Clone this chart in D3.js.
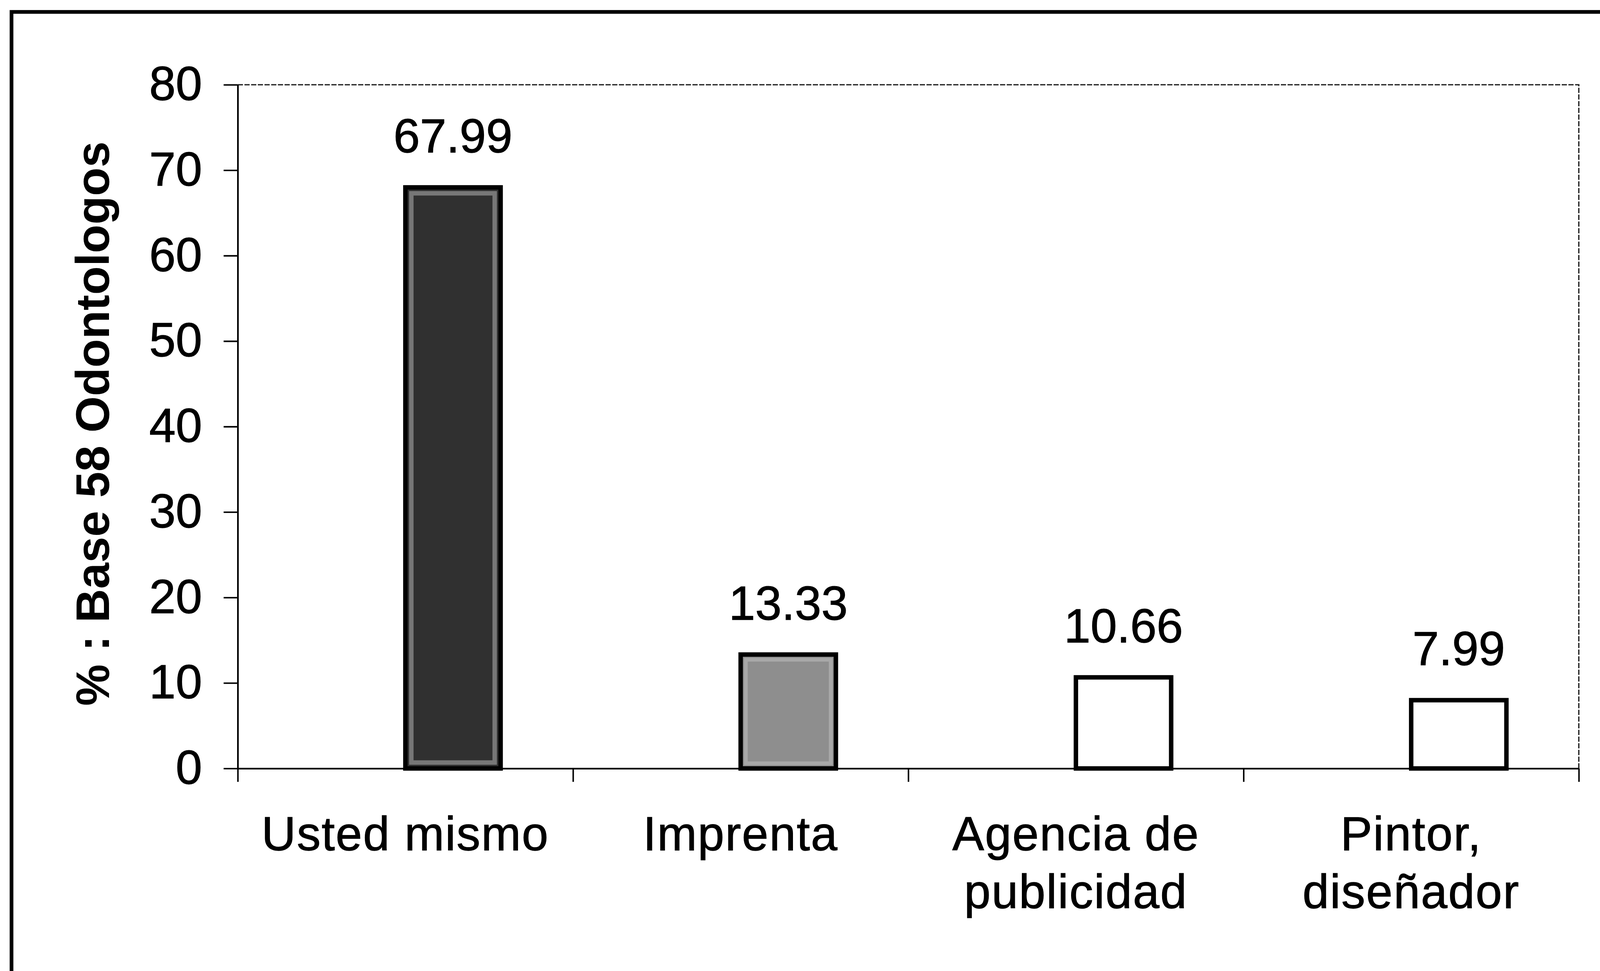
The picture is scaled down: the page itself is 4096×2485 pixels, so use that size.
<!DOCTYPE html>
<html><head><meta charset="utf-8">
<script src="https://cdn.jsdelivr.net/npm/d3@7"></script>
<style>html,body{margin:0;padding:0;background:#fff;overflow:hidden}</style>
</head><body>
<svg id="chart" width="4096" height="2485"></svg>
<script>
// ---- data ----
const categories = ["Usted mismo", "Imprenta", "Agencia de\npublicidad", "Pintor,\ndiseñador"];
const values = [67.99, 13.33, 10.66, 7.99];
const valueLabels = ["67.99", "13.33", "10.66", "7.99"];
const yTicks = [0, 10, 20, 30, 40, 50, 60, 70, 80];
const yTitle = "% : Base 58 Odontologos";
const barFills = ["#303030", "#8e8e8e", "#ffffff", "#ffffff"];

// ---- layout (reference pixels, scaled by S) ----
const S = 0.951;
const plot = {left: 640, right: 4250, top: 228, bottom: 2068};
const font = "'Liberation Sans', Arial, sans-serif";

const svg = d3.select("#chart");
svg.append("rect").attr("width", 4096).attr("height", 2485).attr("fill", "#fff");
const g = svg.append("g").attr("transform", `scale(${S})`);

// outer frame (left and top visible)
g.append("path")
  .attr("d", "M31,2613 L31,32 L4307,32")
  .attr("fill", "none").attr("stroke", "#000").attr("stroke-width", 10);

const x = d3.scaleBand().domain(categories).range([plot.left, plot.right]);
const slot = d3.scaleBand().domain(["vacío", "valor"]).range([0, x.bandwidth()]).paddingOuter(0.76);
const y = d3.scaleLinear().domain([0, 80]).range([plot.bottom, plot.top]);

// plot area top/right border (thin, dotted-looking)
g.append("path")
  .attr("d", `M${plot.left},${plot.top} L${plot.right},${plot.top} L${plot.right},${plot.bottom}`)
  .attr("fill", "none").attr("stroke", "#222").attr("stroke-width", 3.5)
  .attr("stroke-dasharray", "14 4");

// bars
const bars = g.append("g");
categories.forEach((c, i) => {
  const bx = x(c) + slot("valor");
  const bw = slot.bandwidth();
  bars.append("rect")
    .attr("x", bx).attr("y", y(values[i]))
    .attr("width", bw).attr("height", y(0) - y(values[i]))
    .attr("fill", barFills[i]).attr("stroke", "#000").attr("stroke-width", 12);
  if (i === 0) {
    bars.append("rect")
      .attr("x", bx + 16).attr("y", y(values[i]) + 16)
      .attr("width", bw - 32).attr("height", y(0) - y(values[i]) - 32)
      .attr("fill", "none").attr("stroke", "#777").attr("stroke-width", 12);
  }
  if (i === 1) {
    bars.append("rect")
      .attr("x", bx + 14).attr("y", y(values[i]) + 14)
      .attr("width", bw - 28).attr("height", y(0) - y(values[i]) - 28)
      .attr("fill", "none").attr("stroke", "#a8a8a8").attr("stroke-width", 10);
  }
});

// y axis
const yAxis = g.append("g").attr("transform", `translate(${plot.left},0)`)
  .call(d3.axisLeft(y).tickValues(yTicks).tickSize(38).tickSizeOuter(0).tickPadding(58).tickFormat(d3.format("d")));
yAxis.select(".domain").attr("stroke", "#000").attr("stroke-width", 4.5);
yAxis.selectAll(".tick line").attr("stroke", "#000").attr("stroke-width", 4);
yAxis.selectAll(".tick text").attr("font-family", font).attr("font-size", 128).attr("fill", "#000")
  .attr("stroke", "#000").attr("stroke-width", 1.5);

// x axis (baseline with ticks at category boundaries)
const xEdges = d3.scaleLinear().domain([0, categories.length]).range([plot.left, plot.right]);
const xAxis = g.append("g").attr("transform", `translate(0,${plot.bottom})`)
  .call(d3.axisBottom(xEdges).tickValues(d3.range(categories.length + 1)).tickSize(36).tickSizeOuter(0).tickFormat(""));
xAxis.select(".domain").attr("stroke", "#000").attr("stroke-width", 4.5);
xAxis.selectAll(".tick line").attr("stroke", "#000").attr("stroke-width", 4);

// category labels
categories.forEach(c => {
  const t = g.append("text")
    .attr("x", x(c) + x.bandwidth() / 2).attr("y", 2288)
    .attr("text-anchor", "middle").attr("font-family", font).attr("font-size", 128).attr("fill", "#000")
    .attr("letter-spacing", 2.5).attr("stroke", "#000").attr("stroke-width", 1.5);
  c.split("\n").forEach((line, j) => {
    t.append("tspan").attr("x", x(c) + x.bandwidth() / 2).attr("dy", j === 0 ? 0 : 156).text(line);
  });
});

// value labels
categories.forEach((c, i) => {
  g.append("text")
    .attr("x", x(c) + slot("valor") + slot.bandwidth() / 2)
    .attr("y", y(values[i]) - 94)
    .attr("text-anchor", "middle").attr("font-family", font).attr("font-size", 128).attr("fill", "#000")
    .attr("stroke", "#000").attr("stroke-width", 1.5)
    .text(valueLabels[i]);
});

// y title
g.append("text")
  .attr("transform", "translate(293,1140) rotate(-90)")
  .attr("text-anchor", "middle").attr("font-family", font).attr("font-weight", "bold")
  .attr("font-size", 126).attr("fill", "#000")
  .text(yTitle);
</script>
</body></html>
